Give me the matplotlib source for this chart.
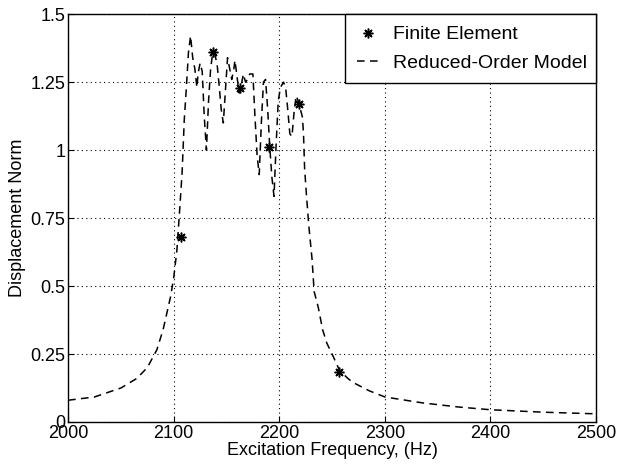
import matplotlib.pyplot as plt

# reduced-order model sweep
rom_freq = [2000, 2025, 2050, 2065, 2075, 2084, 2090, 2097, 2100, 2103, 2106, 2108,
            2110, 2112, 2114, 2116, 2118, 2120, 2122, 2123, 2125, 2127, 2129, 2131,
            2133, 2135, 2137, 2139, 2141, 2143, 2145, 2147, 2149, 2151, 2153, 2155,
            2157, 2158, 2160, 2162, 2164, 2166, 2168, 2170, 2172, 2175, 2177, 2179,
            2181, 2183, 2185, 2187, 2189, 2191, 2193, 2195, 2197, 2199, 2201, 2204,
            2206, 2208, 2210, 2212, 2214, 2216, 2218, 2220, 2222, 2223, 2224, 2226,
            2228, 2231, 2233, 2237, 2241, 2245, 2250, 2257, 2265, 2270, 2285, 2300,
            2336, 2370, 2400, 2450, 2500]
rom_disp = [0.080, 0.092, 0.125, 0.16, 0.20, 0.265, 0.34, 0.46, 0.53, 0.63, 0.80, 0.92,
            1.11, 1.23, 1.36, 1.42, 1.34, 1.30, 1.23, 1.28, 1.32, 1.29, 1.12, 1.00,
            1.18, 1.30, 1.36, 1.35, 1.32, 1.24, 1.15, 1.10, 1.22, 1.34, 1.30, 1.26,
            1.30, 1.33, 1.27, 1.21, 1.24, 1.28, 1.25, 1.26, 1.28, 1.28, 1.12, 0.98,
            0.91, 1.10, 1.25, 1.26, 1.15, 1.01, 0.90, 0.83, 1.02, 1.18, 1.23, 1.25,
            1.23, 1.15, 1.06, 1.05, 1.14, 1.20, 1.18, 1.15, 1.12, 1.05, 0.93, 0.82,
            0.72, 0.60, 0.48, 0.42, 0.34, 0.29, 0.25, 0.19, 0.16, 0.145, 0.115, 0.092,
            0.070, 0.055, 0.045, 0.036, 0.030]

# finite element points
fe_freq = [2107, 2137, 2163, 2190, 2219, 2257]
fe_disp = [0.68, 1.36, 1.23, 1.01, 1.17, 0.185]

xticks = [2000, 2100, 2200, 2300, 2400, 2500]
yticks = [0, 0.25, 0.5, 0.75, 1, 1.25, 1.5]
ytick_labels = ['0', '0.25', '0.5', '0.75', '1', '1.25', '1.5']

plt.rcParams['font.family'] = ['Liberation Sans', 'DejaVu Sans']
plt.rcParams['font.size'] = 13

fig = plt.figure(figsize=(6.19, 4.65), dpi=100)
ax = fig.add_axes([0.110, 0.0925, 0.853, 0.877])

ax.plot(fe_freq, fe_disp, linestyle='none', marker=(8, 2, 0), color='black',
        markersize=7, markeredgewidth=1.1, label='Finite Element')
ax.plot(rom_freq, rom_disp, color='black', linewidth=1.1, dashes=(5, 3.5),
        label='Reduced-Order Model')

ax.set_xlim(2000, 2500)
ax.set_ylim(0, 1.5)
ax.set_xticks(xticks)
ax.set_yticks(yticks)
ax.set_yticklabels(ytick_labels)
ax.tick_params(direction='in', length=4, width=0.8, pad=2)
ax.grid(True, color='black', linestyle=(0, (1, 3)), linewidth=0.8)
for s in ax.spines.values():
    s.set_linewidth(1.0)

ax.set_xlabel('Excitation Frequency, (Hz)', labelpad=0)
ax.set_ylabel('Displacement Norm', labelpad=3)

leg = ax.legend(loc='upper left', bbox_to_anchor=(0.525, 1.0, 0.475, 0),
                mode='expand', handlelength=1.1, borderaxespad=0,
                fancybox=False, framealpha=1, edgecolor='black',
                borderpad=0.6, labelspacing=0.55, handletextpad=0.75,
                fontsize=14)
leg.get_frame().set_linewidth(1.0)

fig.savefig('out.png', dpi=100)
